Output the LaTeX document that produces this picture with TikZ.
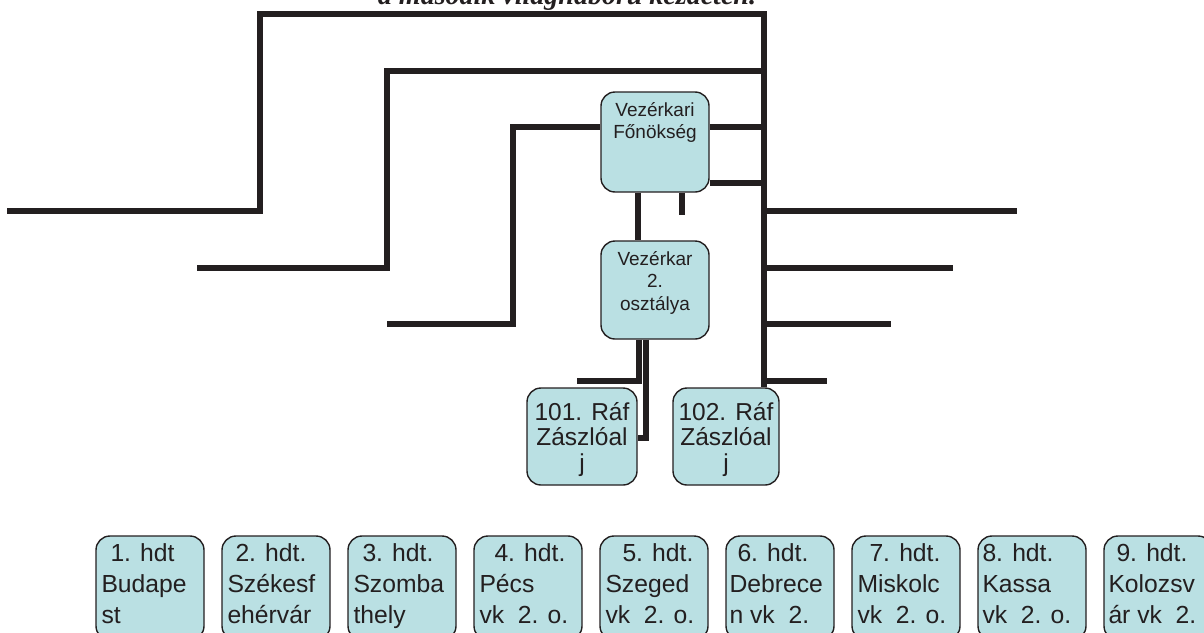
\documentclass[tikz,border=0pt]{standalone}
\usepackage{fontspec}
\setmainfont{Liberation Sans}
\newfontfamily\titlefont{Liberation Serif}
\usetikzlibrary{positioning,backgrounds}

\definecolor{wirecol}{RGB}{35,31,32}
\definecolor{boxfill}{RGB}{186,224,227}

\tikzset{
	wire/.style={line width=6pt,draw=wirecol},
	unit/.style={draw=wirecol,line width=1.4pt,fill=boxfill,rounded corners=14pt,inner sep=0pt,minimum width=108pt},
	hdtbox/.style={unit,minimum height=104pt},
	smalltext/.style={inner sep=0pt,align=center,text=wirecol,font=\fontsize{19}{22.5}\selectfont},
	bigtext/.style={inner sep=0pt,align=center,text=wirecol,font=\fontsize{24.5}{25.5}\selectfont},
	hdttext/.style={inner sep=0pt,align=left,text=wirecol,font=\fontsize{24.7}{31}\selectfont}
}

\begin{document}
\begin{tikzpicture}[x=1pt,y=-1pt]
	\useasboundingbox (0,0) rectangle (1204,632);
	\clip (0,0) rectangle (1204,632);
	
	\node[anchor=base,inner sep=0pt,text=wirecol,font=\titlefont\fontsize{28}{32}\selectfont\bfseries\itshape] (title) at (567,4) {a második világháború kezdetén.};
	
	\node[unit,minimum height=100pt] (vkf) at (655,142) {};
	\node[smalltext,below=11pt of vkf.north] (vkftext) {Vezérkari\\Főnökség};
	
	\node[unit,minimum height=98pt] (vk2) at (655,290) {};
	\node[smalltext,below=11pt of vk2.north] (vk2text) {Vezérkar\\2.\\osztálya};
	
	\node[unit,minimum width=110pt,minimum height=97pt] (raf101) at (582,436.5) {};
	\node[bigtext,below=14.8pt of raf101.north] (raf101text) {101. Ráf\\Zászlóal\\j};
	
	\node[unit,minimum width=106pt,minimum height=97pt] (raf102) at (726,436.5) {};
	\node[bigtext,below=14.8pt of raf102.north] (raf102text) {102. Ráf\\Zászlóal\\j};
	
	%loose ends
	\coordinate (spine) at (764,14);
	\coordinate (lend1) at (7,211);
	\coordinate (lend2) at (197,268);
	\coordinate (lend3) at (387,324);
	\coordinate (rend1) at (1017,211);
	\coordinate (rend2) at (953,268);
	\coordinate (rend3) at (891,324);
	\coordinate (rend4) at (827,381);
	\coordinate (stub) at (682,215);
	\coordinate (hook) at (577,381);
	
	\begin{scope}[on background layer]
	\draw[wire] (lend1) -| (260,14) -- (spine) -- (spine |- raf102.north);
	\draw[wire] (lend2) -| (387,71) -| (spine);
	\draw[wire] (lend3) -| (513,127) -- ([yshift=15pt]vkf.west);
	\draw[wire] ([yshift=15pt]vkf.east) -| (spine);
	\draw[wire] ([yshift=-41pt]vkf.east) -| (spine);
	\draw[wire] (spine |- rend1) -- (rend1);
	\draw[wire] (spine |- rend2) -- (rend2);
	\draw[wire] (spine |- rend3) -- (rend3);
	\draw[wire] (spine |- rend4) -- (rend4);
	\draw[wire] ([xshift=-17pt]vkf.south) -- ([xshift=-17pt]vk2.north);
	\draw[wire] ([xshift=27pt]vkf.south) -- (stub);
	\draw[wire] ([xshift=-16pt]vk2.south) |- (hook);
	\draw[wire] ([xshift=-9pt]vk2.south) |- ([yshift=-1.5pt]raf101.east);
	\end{scope}
	
	%bottom row
	\node[hdtbox] (hdt1) at (150,588) {};
	\node[hdttext,below right=7.7pt and 6pt of hdt1.north west] (hdt1text) {\hspace*{9pt}1. hdt\\Budape\\st};
	\node[hdtbox] (hdt2) at (276,588) {};
	\node[hdttext,below right=7.7pt and 6pt of hdt2.north west] (hdt2text) {\hspace*{8pt}2. hdt.\\Székesf\\ehérvár};
	\node[hdtbox] (hdt3) at (402,588) {};
	\node[hdttext,below right=7.7pt and 6pt of hdt3.north west] (hdt3text) {\hspace*{9pt}3. hdt.\\Szomba\\thely};
	\node[hdtbox] (hdt4) at (528,588) {};
	\node[hdttext,below right=7.7pt and 6pt of hdt4.north west] (hdt4text) {\hspace*{15pt}4. hdt.\\Pécs\\vk\ \ 2. o.};
	\node[hdtbox] (hdt5) at (654,588) {};
	\node[hdttext,below right=7.7pt and 6pt of hdt5.north west] (hdt5text) {\hspace*{17pt}5. hdt.\\Szeged\\vk\ \ 2. o.};
	\node[hdtbox] (hdt6) at (780,588) {};
	\node[hdttext,below right=7.7pt and 4pt of hdt6.north west] (hdt6text) {\hspace*{8pt}6. hdt.\\Debrece\\n vk\ \ 2.};
	\node[hdtbox] (hdt7) at (906,588) {};
	\node[hdttext,below right=7.7pt and 6pt of hdt7.north west] (hdt7text) {\hspace*{12pt}7. hdt.\\Miskolc\\vk\ \ 2. o.};
	\node[hdtbox] (hdt8) at (1032,588) {};
	\node[hdttext,below right=7.7pt and 5pt of hdt8.north west] (hdt8text) {8. hdt.\\Kassa\\vk\ \ 2. o.};
	\node[hdtbox] (hdt9) at (1158,588) {};
	\node[hdttext,below right=7.7pt and 5pt of hdt9.north west] (hdt9text) {\hspace*{8pt}9. hdt.\\Kolozsv\\ár vk\ \ 2.};
\end{tikzpicture}
\end{document}
